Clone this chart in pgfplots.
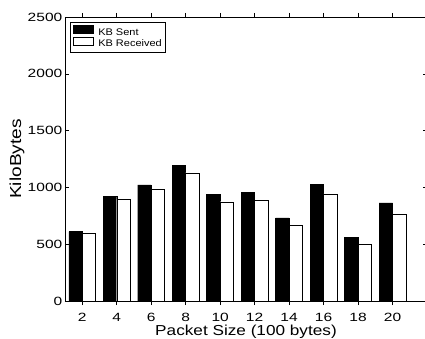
\documentclass[border=0pt]{standalone}
\usepackage{pgfplots}
\pgfplotsset{compat=1.18}
\usepackage{fontspec}
\setmainfont{Liberation Sans}[FakeStretch=1.15]
\newfontfamily\tickfont{Liberation Sans}[FakeStretch=1.3]
\newfontfamily\ylabfont{Liberation Sans}[FakeStretch=1.2]
\newfontfamily\xlabfont{Liberation Sans}[FakeStretch=1.19]
\begin{document}
\begin{tikzpicture}
\begin{axis}[
  scale only axis,
  width=362bp, height=284bp,
  xmin=1, xmax=22, ymin=0, ymax=2500,
  xtick={2,4,...,20},
  ytick={0,500,...,2500},
  tick align=inside,
  major tick length=4bp,
  tick style={black, line width=0.5pt},
  axis line style={line width=0.8pt},
  /pgf/number format/assume math mode=true,
  /pgf/number format/1000 sep={},
  ticklabel style={font=\tickfont\fontsize{12}{14}\selectfont},
  xticklabel style={anchor=base, yshift=-16.8bp, inner sep=0pt, text depth=0pt},
  yticklabel style={anchor=east, xshift=-2.5bp, inner sep=0pt},
  xlabel={Packet Size (100 bytes)},
  ylabel={KiloBytes},
  xlabel style={font=\xlabfont\fontsize{14.5}{16}\selectfont, inner sep=0pt, text height=10bp, at={(axis description cs:0.5,0)}, anchor=base, yshift=-34.6bp},
  ylabel style={font=\ylabfont\fontsize{16}{18}\selectfont, inner sep=0pt, at={(axis description cs:0,0.5)}, anchor=center, yshift=48bp},
  ybar,
  bar width=0.78,
  legend style={at={(rel axis cs:0,1)}, anchor=north west, xshift=5bp, yshift=-5bp,
    font=\fontsize{9.6}{11}\selectfont, draw=black, line width=0.8pt,
    inner sep=3pt, row sep=0pt,
    nodes={inner sep=1pt, text height=7bp, text depth=1bp}},
  legend cell align=left,
  legend image code/.code={\draw[#1, line width=0.5pt] (0cm,-0.03cm) rectangle (0.7cm,0.23cm);\path (0.82cm,0);},
]
\addplot[fill=black, draw=black, bar shift=-0.39] coordinates {
(2,611) (4,921) (6,1023) (8,1193) (10,938) (12,956) (14,731) (16,1029) (18,558) (20,863)};
\addplot[fill=white, draw=black, bar shift=0.39] coordinates {
(2,596) (4,895) (6,980) (8,1129) (10,874) (12,886) (14,664) (16,942) (18,497) (20,763)};
\legend{KB Sent, KB Received}
\end{axis}
\pgfresetboundingbox
\path[use as bounding box] ([xshift=-65bp,yshift=-38bp]current axis.south west) rectangle ([xshift=-2bp,yshift=17bp]current axis.north east);
\end{tikzpicture}
\end{document}
